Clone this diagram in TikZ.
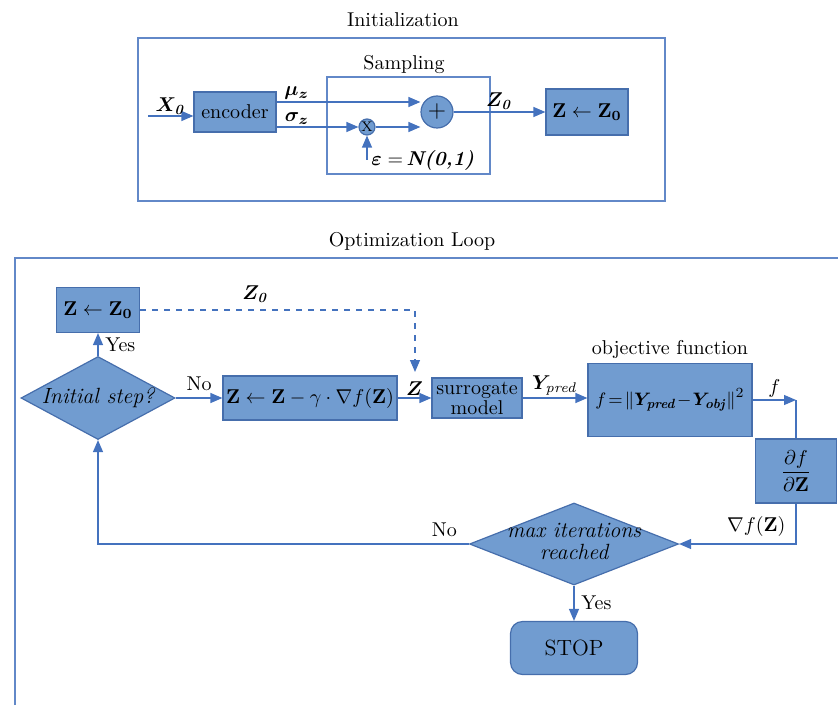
\documentclass[tikz,border=0pt]{standalone}
\usepackage{amsmath,amssymb,bm}
\usetikzlibrary{arrows.meta,shapes.geometric}

\definecolor{boxfill}{RGB}{113,156,208}
\definecolor{boxline}{RGB}{70,110,172}
\definecolor{flow}{RGB}{68,114,190}
\definecolor{framec}{RGB}{98,136,200}

\begin{document}
\begin{tikzpicture}[x=0.5pt,y=-0.5pt,>={Triangle[length=6pt,width=5pt]},
    every edge/.style={draw=flow,line width=0.6pt},
    arr/.style={->,draw=flow,line width=0.6pt},
    flow line/.style={draw=flow,line width=0.6pt},
    frame/.style={draw=framec,line width=0.8pt},
    block/.style={rectangle,draw=boxline,fill=boxfill,line width=0.6pt,inner sep=1pt},
    dot/.style={circle,draw=boxline,fill=boxfill,line width=0.6pt,inner sep=0pt},
    decision/.style={diamond,draw=boxline,fill=boxfill,line width=0.6pt,inner sep=0pt,
                     font=\fontsize{11}{12}\selectfont\itshape},
    lbl/.style={font=\fontsize{10}{12}\selectfont}]

  \useasboundingbox (0,0) rectangle (838,705);

  % initialization
  \node[lbl] (inittitle) at (403,20) {Initialization};
  \draw[frame] (138,38) rectangle (665,201);
  \node[lbl] (samptitle) at (404,65) {Sampling};
  \draw[frame] (327,77) rectangle (490,174);

  \node[block,minimum width=41pt,minimum height=20pt] (enc) at (235,112) {encoder};
  \node[dot,minimum size=16pt,font=\large] (plus) at (437,112) {$+$};
  \node[dot,minimum size=8pt,font=\scriptsize] (times) at (367,127) {X};
  \node[block,minimum width=41pt,minimum height=23pt] (zinit) at (587,112)
    {$\mathbf{Z}\leftarrow\mathbf{Z}_{\mathbf{0}}$};
  \node[lbl,anchor=west,inner sep=1pt] (eps) at (369,160)
    {$\bm{\varepsilon}=$\,\textbf{\textit{N(0,1)}}};
  \coordinate (x0) at (148,116);

  \draw[arr] (x0) -- node[above,inner sep=0.5pt] {$\bm{X_{\mathit{0}}}$} (x0 -| enc.west);
  \draw[arr] ([yshift=5pt]enc.east) -- node[above,pos=0.14,inner sep=1pt] {$\bm{\mu_z}$}
    ([yshift=5pt]enc.east -| plus.west);
  \draw[arr] ([yshift=-7.5pt]enc.east) -- node[above,pos=0.25,inner sep=1pt] {$\bm{\sigma_z}$} (times.west);
  \draw[arr] (times.east) -- (times.east -| plus.west);
  \draw[arr] (times |- eps.west) -- (times.south);
  \path[arr] (plus) edge node[above,inner sep=1pt] {$\bm{Z_{\mathit{0}}}$} (zinit);

  % optimization loop
  \node[lbl] (looptitle) at (412,241) {Optimization Loop};
  \draw[frame] (15,705) |- (838,258);

  \node[block,minimum width=41.5pt,minimum height=22.5pt] (zset) at (98,310)
    {$\mathbf{Z}\leftarrow\mathbf{Z}_{\mathbf{0}}$};
  \node[decision,minimum width=77pt,minimum height=41.5pt] (init) at (98,398)
    {\makebox[0pt]{Initial step?}};
  \node[block,minimum width=87pt,minimum height=22pt] (upd) at (310,398)
    {$\mathbf{Z}\leftarrow\mathbf{Z}-\gamma\cdot\nabla f(\mathbf{Z})$};
  \node[block,minimum width=45pt,minimum height=20pt,align=center,
        font=\fontsize{10}{10}\selectfont] (surr) at (477,398) {surrogate\\model};
  \node[block,minimum width=82pt,minimum height=36.5pt,font=\fontsize{9.5}{10}\selectfont] (obj) at (670,400)
    {$f\!=\!\|\bm{Y}_{\textbf{\textit{pred}}}\!-\!\bm{Y}_{\textbf{\textit{obj}}}\|^2$};
  \node[lbl,anchor=south,inner sep=2pt] (objtitle) at (obj.north) {objective function};
  \node[block,minimum width=40.5pt,minimum height=32pt] (dfdz) at (796,471)
    {$\dfrac{\partial f}{\partial\mathbf{Z}}$};
  \node[decision,minimum width=104.5pt,minimum height=41pt] (maxit) at (574,544)
    {\makebox[0pt]{\begin{tabular}{@{}c@{}}max iterations\\[-1pt] reached\end{tabular}}};
  \node[block,rounded corners=6pt,minimum width=63.5pt,minimum height=26.5pt,
        font=\fontsize{11}{12}\selectfont] (stop) at (574,648) {STOP};
  \coordinate (zdash) at (415,372);
  \coordinate (fout) at (dfdz.north |- obj.east);

  \path[arr]
    (init) edge node[right] {Yes} (zset)
    (init) edge node[above] {No} (upd)
    (upd) edge node[above,inner sep=1pt] {$\bm{Z}$} (surr)
    (surr) edge node[above,inner sep=1pt] {$\bm{Y}_{\mathit{pred}}$} (surr.east -| obj.west)
    (maxit) edge node[right] {Yes} (stop);

  \draw[arr,dashed] (zset.east) -| node[above,pos=0.21] {$\bm{Z_{\mathit{0}}}$} (zdash);
  \draw[arr] (obj.east) -- node[above,inner sep=1pt] {$f$} (fout);
  \draw[flow line] (fout) -- (dfdz.north);
  \draw[arr] (dfdz.south) |- node[above,pos=0.67] {$\nabla f(\mathbf{Z})$} (maxit.east);
  \draw[arr] (maxit.west) -| node[above,pos=0.033] {No} (init.south);
\end{tikzpicture}
\end{document}
